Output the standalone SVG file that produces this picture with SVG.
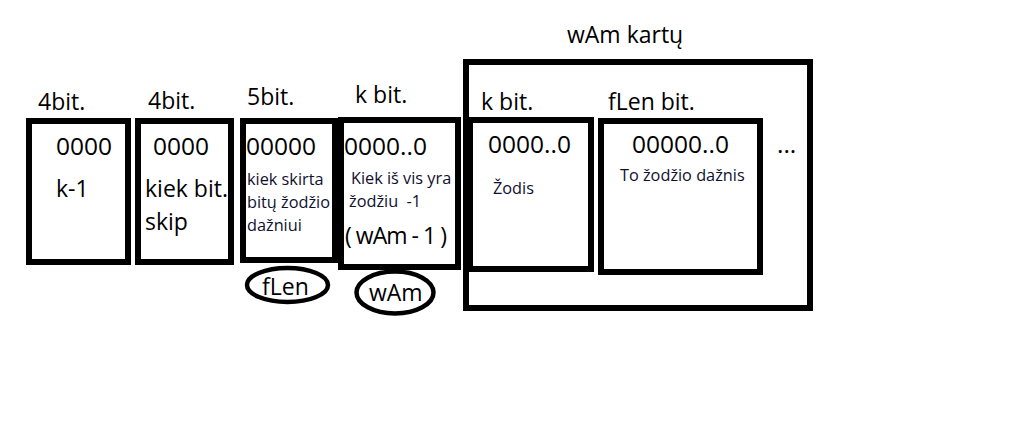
<svg xmlns="http://www.w3.org/2000/svg" width="1029" height="424" viewBox="0 0 1029 424">
<style>
.box{fill:#fff;stroke:#000;stroke-width:6}
.ell{fill:#fff;stroke:#000;stroke-width:4.5}
text{font-family:"Open Sans","Noto Sans",sans-serif;fill:#000}
.lbl{font-size:23px}
.big{font-size:24.5px}
.sm{font-size:16.3px;fill:#101030}
</style>
<rect width="1029" height="424" fill="#fff"/>
<g id="labels">
<text class="lbl" x="38" y="110">4bit.</text>
<text class="lbl" x="148" y="109">4bit.</text>
<text class="lbl" x="247" y="105">5bit.</text>
<text class="lbl" x="355" y="103">k bit.</text>
<text class="lbl" x="567" y="43">wAm kartų</text>
</g>
<g id="box1">
<rect class="box" x="29" y="121" width="99" height="141"/>
<text class="big" x="56" y="155">0000</text>
<text class="lbl" x="56" y="197">k-1</text>
</g>
<g id="box2">
<rect class="box" x="138" y="121" width="93" height="141"/>
<text class="big" x="153" y="155">0000</text>
<text class="lbl" x="145" y="197">kiek bit.</text>
<text class="lbl" x="145" y="230">skip</text>
</g>
<g id="box3">
<rect class="box" x="243" y="121" width="92" height="139"/>
<text class="big" x="246" y="155">00000</text>
<text class="sm" x="247" y="185">kiek skirta</text>
<text class="sm" x="247" y="208">bitų žodžio</text>
<text class="sm" x="247" y="231">dažniui</text>
</g>
<g id="box4">
<rect class="box" x="341" y="120" width="117" height="147"/>
<text class="big" x="344" y="155">0000..0</text>
<text class="sm" x="351" y="184">Kiek iš vis yra</text>
<text class="sm" x="349" y="207">žodžiu&#160; -1</text>
<text class="lbl" x="345" y="244" textLength="102" lengthAdjust="spacing">( wAm - 1 )</text>
</g>
<g id="fLenEllipse">
<ellipse class="ell" cx="287.5" cy="285" rx="40.5" ry="17"/>
<text class="lbl" x="262" y="295">fLen</text>
</g>
<g id="wAmEllipse">
<ellipse class="ell" cx="395" cy="292.5" rx="38.5" ry="21"/>
<text class="lbl" x="369" y="301">wAm</text>
</g>
<g id="repeat">
<rect class="box" x="466" y="62" width="344" height="246"/>
<text class="lbl" x="481" y="110">k bit.</text>
<text class="lbl" x="608" y="110">fLen bit.</text>
<g id="wordBox">
<rect class="box" x="470" y="120" width="121" height="149"/>
<text class="big" x="488" y="153">0000..0</text>
<text class="sm" x="493" y="194">Žodis</text>
</g>
<g id="freqBox">
<rect class="box" x="601" y="121" width="159" height="151"/>
<text class="big" x="632" y="153">00000..0</text>
<text class="sm" x="620" y="181">To žodžio dažnis</text>
</g>
<text class="big" x="777" y="153">...</text>
</g>
<g id="connectors"></g>
</svg>
